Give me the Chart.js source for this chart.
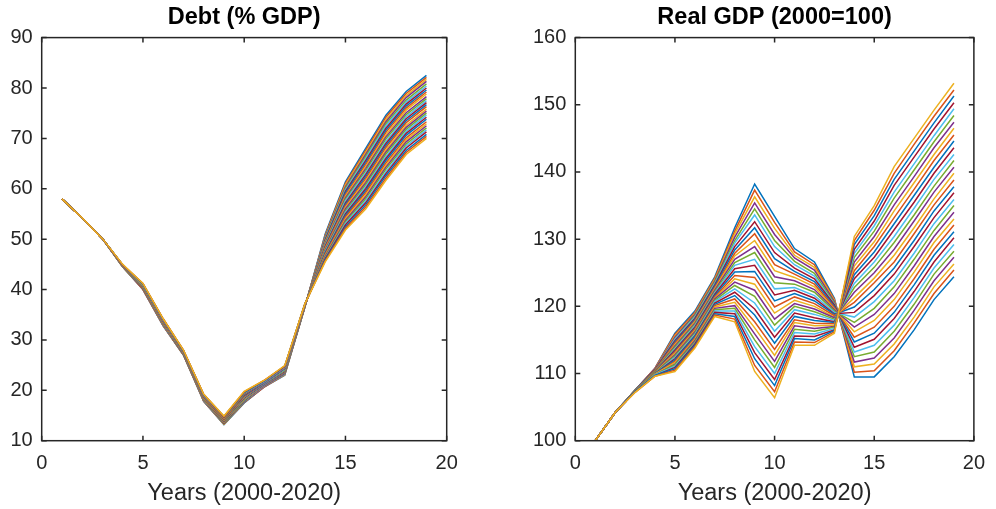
<!DOCTYPE html>
<html>
<head>
<meta charset="utf-8">
<title>Debt (% GDP) / Real GDP (2000=100)</title>
<script src="https://cdn.jsdelivr.net/npm/chart.js@4.4.0/dist/chart.umd.min.js"></script>
<style>
html, body { margin: 0; padding: 0; background: #fff; }
#marco { position: relative; width: 996px; height: 509px; }
.panel { position: absolute; top: 0; width: 498px; height: 509px; }
</style>
</head>
<body>
<div id="marco">
  <div class="panel" style="left:0"><canvas id="deudaChart" width="498" height="509"></canvas></div>
  <div class="panel" style="left:498px"><canvas id="pibChart" width="498" height="509"></canvas></div>
</div>
<script>
// ===============================
// DATOS (una fila por año, 31 escenarios por fila)
// ===============================
const anios = [1, 2, 3, 4, 5, 6, 7, 8, 9, 10, 11, 12, 13, 14, 15, 16, 17, 18, 19];

const ticksX = [0, 5, 10, 15, 20];
const ticksDeuda = [10, 20, 30, 40, 50, 60, 70, 80, 90];
const ticksPib = [100, 110, 120, 130, 140, 150, 160];

const deudaPorAnio = [
  [58.0,58.0,58.0,58.0,58.0,58.0,58.0,58.0,58.0,58.0,58.0,58.0,58.0,58.0,58.0,58.0,58.0,58.0,58.0,58.0,58.0,58.0,58.0,58.0,58.0,58.0,58.0,58.0,58.0,58.0,58.0],
  [54.2,54.2,54.2,54.2,54.2,54.2,54.2,54.2,54.2,54.2,54.2,54.2,54.2,54.2,54.2,54.2,54.2,54.2,54.2,54.2,54.2,54.2,54.2,54.2,54.2,54.2,54.2,54.2,54.2,54.2,54.2],
  [50.1,50.1,50.1,50.1,50.1,50.1,50.1,50.1,50.1,50.1,50.1,50.1,50.1,50.1,50.1,50.1,50.1,50.1,50.1,50.1,50.1,50.1,50.1,50.1,50.1,50.1,50.1,50.1,50.1,50.1,50.1],
  [44.5,44.5,44.5,44.5,44.5,44.5,44.6,44.6,44.6,44.6,44.6,44.6,44.7,44.7,44.7,44.7,44.7,44.7,44.8,44.8,44.8,44.8,44.8,44.8,44.9,44.9,44.9,44.9,44.9,44.9,45.0],
  [40.0,40.0,40.1,40.1,40.2,40.2,40.2,40.3,40.3,40.4,40.4,40.4,40.5,40.5,40.6,40.6,40.6,40.7,40.7,40.8,40.8,40.8,40.9,40.9,41.0,41.0,41.0,41.1,41.1,41.2,41.2],
  [32.8,32.8,32.9,32.9,33.0,33.0,33.1,33.1,33.2,33.2,33.3,33.3,33.4,33.4,33.5,33.5,33.5,33.6,33.6,33.7,33.7,33.8,33.8,33.9,33.9,34.0,34.0,34.1,34.1,34.2,34.2],
  [27.0,27.0,27.1,27.1,27.1,27.2,27.2,27.2,27.3,27.3,27.3,27.4,27.4,27.4,27.5,27.5,27.5,27.6,27.6,27.6,27.7,27.7,27.7,27.8,27.8,27.8,27.9,27.9,27.9,28.0,28.0],
  [17.8,17.8,17.9,17.9,18.0,18.0,18.1,18.1,18.2,18.2,18.3,18.3,18.4,18.4,18.5,18.5,18.5,18.6,18.6,18.7,18.7,18.8,18.8,18.9,18.9,19.0,19.0,19.1,19.1,19.2,19.2],
  [13.2,13.3,13.3,13.4,13.4,13.5,13.5,13.6,13.7,13.7,13.8,13.8,13.9,13.9,14.0,14.1,14.1,14.2,14.2,14.3,14.3,14.4,14.4,14.5,14.6,14.6,14.7,14.7,14.8,14.8,14.9],
  [17.5,17.6,17.7,17.7,17.8,17.9,18.0,18.0,18.1,18.2,18.3,18.3,18.4,18.5,18.6,18.7,18.7,18.8,18.9,19.0,19.0,19.1,19.2,19.3,19.3,19.4,19.5,19.6,19.6,19.7,19.8],
  [20.7,20.7,20.8,20.8,20.9,20.9,21.0,21.0,21.0,21.1,21.1,21.2,21.2,21.3,21.3,21.4,21.4,21.4,21.5,21.5,21.6,21.6,21.7,21.7,21.7,21.8,21.8,21.9,21.9,22.0,22.0],
  [23.0,23.1,23.1,23.2,23.3,23.3,23.4,23.4,23.5,23.6,23.6,23.7,23.8,23.8,23.9,24.0,24.0,24.1,24.1,24.2,24.3,24.3,24.4,24.5,24.5,24.6,24.6,24.7,24.8,24.8,24.9],
  [36.6,36.6,36.6,36.7,36.7,36.7,36.7,36.7,36.8,36.8,36.8,36.8,36.8,36.9,36.9,36.9,36.9,36.9,37.0,37.0,37.0,37.0,37.0,37.1,37.1,37.1,37.1,37.1,37.2,37.2,37.2],
  [51.0,50.8,50.6,50.5,50.3,50.1,49.9,49.7,49.5,49.4,49.2,49.0,48.8,48.6,48.4,48.3,48.1,47.9,47.7,47.5,47.3,47.2,47.0,46.8,46.6,46.4,46.2,46.1,45.9,45.7,45.5],
  [61.4,61.1,60.8,60.4,60.1,59.8,59.5,59.2,58.8,58.5,58.2,57.9,57.6,57.2,56.9,56.6,56.3,56.0,55.6,55.3,55.0,54.7,54.4,54.0,53.7,53.4,53.1,52.8,52.4,52.1,51.8],
  [68.0,67.6,67.2,66.8,66.4,66.0,65.6,65.2,64.8,64.4,64.0,63.6,63.2,62.8,62.4,62.0,61.6,61.2,60.8,60.4,60.0,59.6,59.2,58.8,58.4,58.0,57.6,57.2,56.8,56.4,56.0],
  [74.6,74.2,73.7,73.3,72.9,72.5,72.0,71.6,71.2,70.7,70.3,69.9,69.4,69.0,68.6,68.2,67.7,67.3,66.9,66.4,66.0,65.6,65.1,64.7,64.3,63.9,63.4,63.0,62.6,62.1,61.7],
  [79.3,78.9,78.5,78.1,77.6,77.2,76.8,76.4,76.0,75.6,75.1,74.7,74.3,73.9,73.5,73.1,72.6,72.2,71.8,71.4,71.0,70.6,70.1,69.7,69.3,68.9,68.5,68.1,67.6,67.2,66.8],
  [82.5,82.1,81.7,81.3,80.8,80.4,80.0,79.6,79.2,78.8,78.3,77.9,77.5,77.1,76.7,76.3,75.8,75.4,75.0,74.6,74.2,73.8,73.3,72.9,72.5,72.1,71.7,71.3,70.8,70.4,70.0]
];

const pibPorAnio = [
  [100,100,100,100,100,100,100,100,100,100,100,100,100,100,100,100,100,100,100,100,100,100,100,100,100,100,100,100,100,100,100],
  [104.2,104.2,104.2,104.2,104.2,104.2,104.2,104.2,104.2,104.2,104.2,104.2,104.2,104.2,104.2,104.2,104.2,104.2,104.2,104.2,104.2,104.2,104.2,104.2,104.2,104.2,104.2,104.2,104.2,104.2,104.2],
  [107.5,107.5,107.5,107.5,107.5,107.5,107.5,107.5,107.4,107.4,107.4,107.4,107.4,107.4,107.4,107.4,107.4,107.4,107.4,107.3,107.3,107.3,107.3,107.3,107.3,107.3,107.3,107.3,107.3,107.2,107.2],
  [110.8,110.8,110.7,110.7,110.6,110.6,110.6,110.5,110.5,110.4,110.4,110.4,110.3,110.3,110.2,110.2,110.2,110.1,110.1,110.0,110.0,110.0,109.9,109.9,109.8,109.8,109.8,109.7,109.7,109.6,109.6],
  [116.0,115.8,115.6,115.4,115.2,115.1,114.9,114.7,114.5,114.3,114.1,113.9,113.7,113.5,113.3,113.2,113.0,112.8,112.6,112.4,112.2,112.0,111.8,111.6,111.4,111.3,111.1,110.9,110.7,110.5,110.3],
  [119.3,119.1,118.9,118.8,118.6,118.4,118.2,118.0,117.8,117.7,117.5,117.3,117.1,116.9,116.7,116.6,116.4,116.2,116.0,115.8,115.6,115.5,115.3,115.1,114.9,114.7,114.5,114.4,114.2,114.0,113.8],
  [124.4,124.2,124.0,123.8,123.6,123.4,123.2,123.0,122.8,122.6,122.4,122.2,122.0,121.8,121.6,121.4,121.2,121.1,120.9,120.7,120.5,120.3,120.1,119.9,119.7,119.5,119.3,119.1,118.9,118.7,118.5],
  [131.7,131.2,130.8,130.3,129.8,129.4,128.9,128.4,127.9,127.5,127.0,126.5,126.1,125.6,125.1,124.6,124.1,123.6,123.1,122.6,122.1,121.6,121.1,120.6,120.1,119.7,119.3,118.9,118.5,118.1,117.7],
  [138.2,137.3,136.3,135.4,134.5,133.6,132.6,131.7,130.8,129.8,128.9,128.0,127.0,126.1,125.2,124.3,123.3,122.4,121.5,120.5,119.6,118.7,117.7,116.8,115.9,115.0,114.0,113.1,112.2,111.2,110.3],
  [133.4,132.5,131.6,130.7,129.8,128.9,128.0,127.1,126.2,125.3,124.4,123.5,122.6,121.7,120.8,119.9,119.0,118.1,117.2,116.3,115.4,114.5,113.6,112.7,111.8,110.9,110.0,109.1,108.2,107.3,106.4],
  [128.6,128.1,127.6,127.2,126.7,126.2,125.7,125.2,124.8,124.3,123.8,123.3,122.8,122.4,121.9,121.4,120.9,120.4,120.0,119.5,119.0,118.5,118.0,117.6,117.1,116.6,116.1,115.6,115.2,114.7,114.2],
  [126.6,126.2,125.8,125.4,124.9,124.5,124.1,123.7,123.3,122.9,122.5,122.1,121.6,121.2,120.8,120.4,120.0,119.6,119.2,118.8,118.3,117.9,117.5,117.1,116.7,116.3,115.9,115.5,115.0,114.6,114.2],
  [121.2,121.0,120.9,120.7,120.5,120.3,120.2,120.0,119.8,119.6,119.5,119.3,119.1,118.9,118.8,118.6,118.4,118.3,118.1,117.9,117.7,117.6,117.4,117.2,117.0,116.9,116.7,116.5,116.4,116.2,116.0],
  [109.5,110.2,111.0,111.7,112.5,113.2,113.9,114.7,115.4,116.2,116.9,117.6,118.4,119.1,119.9,120.6,121.3,122.1,122.8,123.4,124.1,124.7,125.3,126.0,126.6,127.3,127.9,128.5,129.2,129.8,130.4],
  [109.5,110.4,111.4,112.3,113.2,114.2,115.1,116.0,116.9,117.9,118.8,119.7,120.7,121.6,122.5,123.5,124.2,125.0,125.8,126.6,127.3,128.1,128.9,129.6,130.4,131.2,132.0,132.7,133.5,134.3,135.0],
  [112.5,113.4,114.4,115.3,116.3,117.2,118.2,119.1,120.0,121.0,121.9,122.9,123.8,124.8,125.7,126.6,127.6,128.5,129.5,130.4,131.4,132.3,133.2,134.2,135.1,136.1,137.0,138.0,138.9,139.8,140.8],
  [116.5,117.5,118.4,119.4,120.3,121.3,122.2,123.2,124.1,125.1,126.0,127.0,127.9,128.9,129.8,130.8,131.7,132.7,133.6,134.6,135.5,136.5,137.4,138.4,139.3,140.3,141.2,142.2,143.1,144.1,145.0],
  [121.0,121.9,122.9,123.8,124.8,125.7,126.6,127.6,128.5,129.5,130.4,131.3,132.3,133.2,134.2,135.1,136.0,137.0,137.9,138.9,139.8,140.7,141.7,142.6,143.6,144.5,145.4,146.4,147.3,148.3,149.2],
  [124.4,125.4,126.3,127.3,128.2,129.2,130.2,131.1,132.1,133.0,134.0,135.0,135.9,136.9,137.8,138.8,139.8,140.7,141.7,142.6,143.6,144.6,145.5,146.5,147.4,148.4,149.4,150.3,151.3,152.2,153.2]
];

// orden de colores por defecto de MATLAB
const coloresMatlab = ["#0072BD", "#D95319", "#EDB120", "#7E2F8E", "#77AC30", "#4DBEEE", "#A2142F"];

const fuente = "'Liberation Sans', Arial, Helvetica, sans-serif";
const gris = "#262626";

// ===============================
// CAJA Y MARCAS HACIA DENTRO
// ===============================
const cajaMatlab = {
    id: "cajaMatlab",
    afterDraw(chart) {
        const { ctx, chartArea: a, scales: { x, y } } = chart;
        const largo = 5;
        ctx.save();
        ctx.strokeStyle = gris;
        ctx.lineWidth = 1.5;
        ctx.strokeRect(a.left, a.top, a.right - a.left, a.bottom - a.top);
        ctx.beginPath();
        x.ticks.forEach(t => {
            const px = x.getPixelForValue(t.value);
            ctx.moveTo(px, a.bottom); ctx.lineTo(px, a.bottom - largo);
            ctx.moveTo(px, a.top); ctx.lineTo(px, a.top + largo);
        });
        y.ticks.forEach(t => {
            const py = y.getPixelForValue(t.value);
            ctx.moveTo(a.left, py); ctx.lineTo(a.left + largo, py);
            ctx.moveTo(a.right, py); ctx.lineTo(a.right - largo, py);
        });
        ctx.stroke();
        ctx.restore();
    }
};

// ===============================
// CONSTRUIR SERIES
// ===============================
function construirSeries(porAnio) {
    const n = porAnio[0].length;
    const series = [];
    // Chart.js pinta la primera serie encima: se invierte para que la última quede arriba
    for (let i = n - 1; i >= 0; i--) {
        series.push({
            data: anios.map((a, k) => ({ x: a, y: porAnio[k][i] })),
            borderColor: coloresMatlab[i % coloresMatlab.length],
            borderWidth: 1.5,
            pointRadius: 0,
            tension: 0,
            fill: false
        });
    }
    return series;
}

function crearGrafico(id, titulo, porAnio, ticksY, anchoEjeY, margenDer) {
    return new Chart(document.getElementById(id), {
        type: "line",
        data: { datasets: construirSeries(porAnio) },
        plugins: [cajaMatlab],
        options: {
            responsive: false,
            animation: false,
            events: [],
            layout: { padding: { left: 0, right: margenDer, top: 0, bottom: 0 } },
            plugins: {
                legend: { display: false },
                tooltip: { enabled: false },
                title: {
                    display: true,
                    text: titulo,
                    fullSize: false,
                    color: "#000",
                    font: { family: fuente, size: 23.5, weight: "bold", lineHeight: 1.2 },
                    padding: { top: 3, bottom: 6.4 }
                }
            },
            scales: {
                x: {
                    type: "linear",
                    min: ticksX[0],
                    max: ticksX[ticksX.length - 1],
                    afterBuildTicks: s => { s.ticks = ticksX.map(v => ({ value: v })); },
                    ticks: { color: gris, font: { family: fuente, size: 20 }, padding: 11, autoSkip: false, maxRotation: 0 },
                    grid: { display: false, drawTicks: false },
                    border: { display: false },
                    title: {
                        display: true,
                        text: "Years (2000-2020)",
                        color: gris,
                        font: { family: fuente, size: 23.5, lineHeight: 1.2 },
                        padding: { top: 0, bottom: 1 }
                    },
                    afterFit: s => { s.height = 68.3; }
                },
                y: {
                    min: ticksY[0],
                    max: ticksY[ticksY.length - 1],
                    afterBuildTicks: s => { s.ticks = ticksY.map(v => ({ value: v })); },
                    ticks: { color: gris, font: { family: fuente, size: 20 }, padding: 9, autoSkip: false },
                    grid: { display: false, drawTicks: false },
                    border: { display: false },
                    afterFit: s => { s.width = anchoEjeY; }
                }
            }
        }
    });
}

// ===============================
// EJECUTAR AL INICIAR
// ===============================
crearGrafico("deudaChart", "Debt (% GDP)", deudaPorAnio, ticksDeuda, 41.7, 51.3);
crearGrafico("pibChart", "Real GDP (2000=100)", pibPorAnio, ticksPib, 77.3, 16.3);
</script>
</body>
</html>
